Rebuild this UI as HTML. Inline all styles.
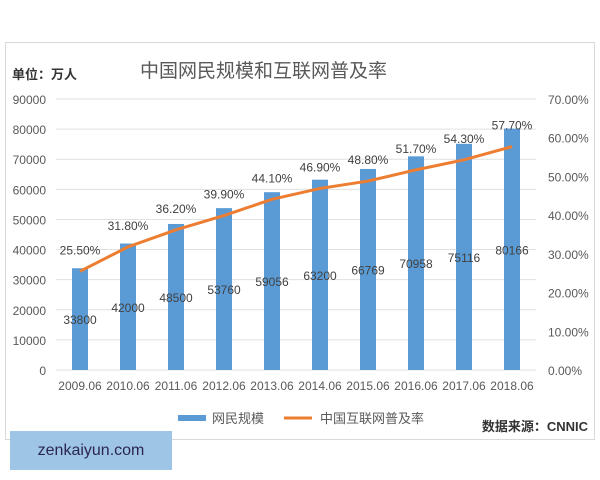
<!DOCTYPE html>
<html><head><meta charset="utf-8"><style>
body{margin:0;width:600px;height:480px;background:#fff;overflow:hidden;font-family:"Liberation Sans","Noto Sans CJK SC",sans-serif;}
#frame{position:absolute;left:5px;top:42px;width:588px;height:396px;border:1px solid #d9d9d9;}
#wm{position:absolute;left:10px;top:431px;width:162px;height:39px;background:#9fc5e6;color:#2a2650;font-size:16px;line-height:39px;text-align:center;}
</style></head><body>
<div id="frame"></div>
<svg width="600" height="480" style="position:absolute;left:0;top:0" id="chart"></svg>
<div id="wm">zenkaiyun.com</div>
<script>
const categories=["2009.06","2010.06","2011.06","2012.06","2013.06","2014.06","2015.06","2016.06","2017.06","2018.06"];
const users=[33800,42000,48500,53760,59056,63200,66769,70958,75116,80166];
const rates=[25.5,31.8,36.2,39.9,44.1,46.9,48.8,51.7,54.3,57.7];
const leftTicks=[0,10000,20000,30000,40000,50000,60000,70000,80000,90000];
const rightTicks=[0,10,20,30,40,50,60,70];
const svg=document.getElementById('chart');
const NS='http://www.w3.org/2000/svg';
const X0=56,BW=48,Y0=370,Y1=99;
const yL=v=>Y0-(v/90000)*(Y0-Y1);
const yR=v=>Y0-(v/70)*(Y0-Y1);
const xC=i=>X0+BW*(i+0.5);
function el(t,a,txt){const e=document.createElementNS(NS,t);for(const k in a)e.setAttribute(k,a[k]);if(txt!=null)e.textContent=txt;svg.appendChild(e);return e;}
leftTicks.forEach(v=>{
 const g=el('line',{x1:X0,x2:536,y1:yL(v),y2:yL(v),stroke:'#e0e0e0','stroke-width':1});
 
 
 const t=el('text',{x:46,y:yL(v)+5,'text-anchor':'end','font-size':12,fill:'#595959'},String(v));
 
 
});
rightTicks.forEach(v=>{
 const t=el('text',{x:548,y:yR(v)+5,'font-size':12,fill:'#595959'},v.toFixed(2)+'%');
 
 
});
categories.forEach((c,i)=>{
 const b=el('rect',{x:xC(i)-8,y:yL(users[i]),width:16,height:Y0-yL(users[i]),fill:'#5b9bd5'});
 
 
 const t=el('text',{x:xC(i),y:390,'text-anchor':'middle','font-size':12,fill:'#595959'},c);
 
 
 const v=el('text',{x:xC(i),y:(yL(users[i])+Y0)/2+5,'text-anchor':'middle','font-size':12,fill:'#404040'},String(users[i]));
 
 
});
const line=el('polyline',{points:rates.map((r,i)=>xC(i)+','+yR(r)).join(' '),fill:'none',stroke:'#ed7d31','stroke-width':3});


rates.forEach((r,i)=>{
 const t=el('text',{x:xC(i),y:yR(r)-17,'text-anchor':'middle','font-size':12,fill:'#404040'},r.toFixed(2)+'%');
 
 
});
const t1=el('text',{x:140,y:77,'font-size':19,fill:'#595959'},'中国网民规模和互联网普及率');


const t2=el('text',{x:12,y:79,'font-size':13,fill:'#333','font-weight':'bold'},'单位：万人');


const l1=el('rect',{x:178,y:415,width:28,height:6,fill:'#5b9bd5'});


const l2=el('text',{x:212,y:423,'font-size':13,fill:'#595959'},'网民规模');


const l3=el('line',{x1:248+36,x2:276+36,y1:418,y2:418,stroke:'#ed7d31','stroke-width':3});


const l4=el('text',{x:320,y:423,'font-size':13,fill:'#595959'},'中国互联网普及率');


const s=el('text',{x:588,y:431,'text-anchor':'end','font-size':13,fill:'#333','font-weight':'bold'},'数据来源：CNNIC');


</script>
</body></html>
